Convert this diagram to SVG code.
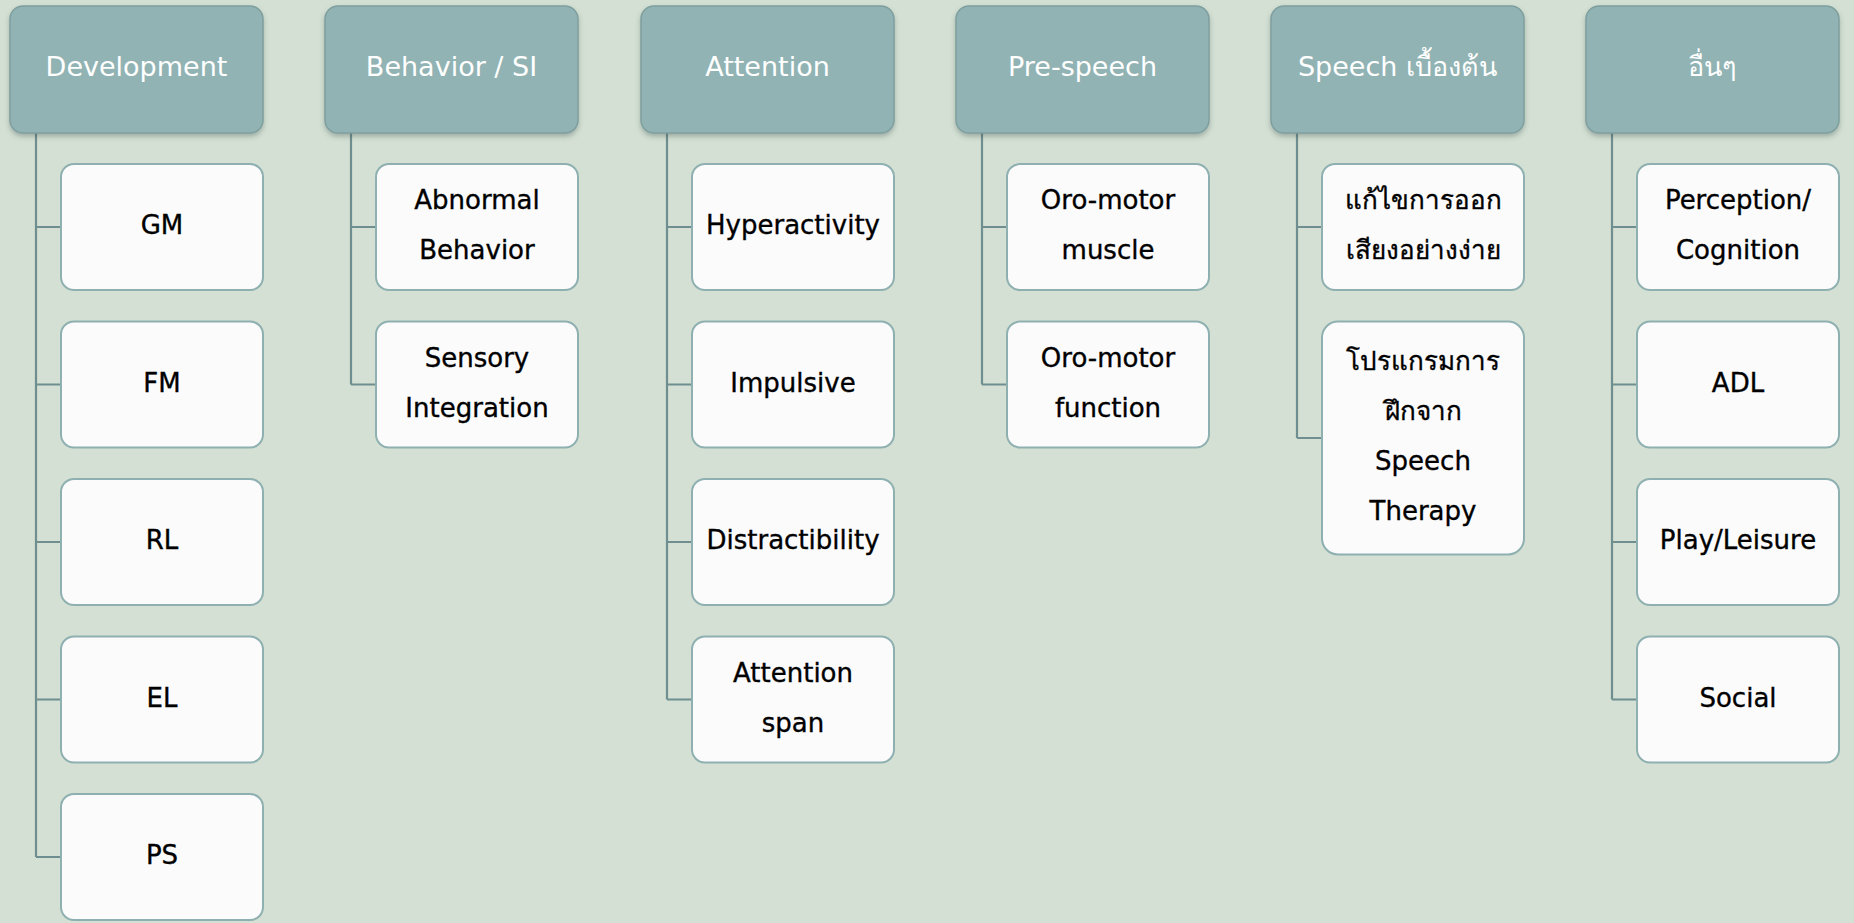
<svg xmlns="http://www.w3.org/2000/svg" width="1854" height="923" viewBox="0 0 1854 923">
<defs>
<filter id="sh" x="-10%" y="-10%" width="120%" height="130%">
<feDropShadow dx="0" dy="3" stdDeviation="2.5" flood-color="#3d5656" flood-opacity="0.35"/>
</filter>
</defs>
<style>
.bg{fill:#d4e0d3}
.hd{fill:#91b3b4;stroke:#7f9f9f;stroke-width:1.5;filter:url(#sh)}
.ch{fill:#fbfbfb;stroke:#8fb0b1;stroke-width:2}
.ht{font-family:"DejaVu Sans","Noto Sans",sans-serif;font-size:27px;fill:#ffffff;text-anchor:middle;dominant-baseline:central}
.ct{font-family:"DejaVu Sans","Noto Sans",sans-serif;font-size:26px;fill:#000000;stroke:#000000;stroke-width:0.35;text-anchor:middle;dominant-baseline:central}
.cn{fill:none;stroke:#6f8e8f;stroke-width:2.2}
</style>
<rect class="bg" x="0" y="0" width="1854" height="923"/>
<g id="connectors">
<path class="cn" d="M36 133 V857 M36 227 H61 M36 384.5 H61 M36 542 H61 M36 699.5 H61 M36 857 H61"/>
<path class="cn" d="M351 133 V384.5 M351 227 H376 M351 384.5 H376"/>
<path class="cn" d="M667 133 V699.5 M667 227 H692 M667 384.5 H692 M667 542 H692 M667 699.5 H692"/>
<path class="cn" d="M982 133 V384.5 M982 227 H1007 M982 384.5 H1007"/>
<path class="cn" d="M1297 133 V438 M1297 227 H1322 M1297 438 H1322"/>
<path class="cn" d="M1612 133 V699.5 M1612 227 H1637 M1612 384.5 H1637 M1612 542 H1637 M1612 699.5 H1637"/>
</g>
<g id="h-development"><rect class="hd" x="10" y="6" width="253" height="127" rx="13"/><text class="ht" x="136.5" y="66">Development</text></g>
<g id="h-behavior"><rect class="hd" x="325" y="6" width="253" height="127" rx="13"/><text class="ht" x="451.5" y="66">Behavior / SI</text></g>
<g id="h-attention"><rect class="hd" x="641" y="6" width="253" height="127" rx="13"/><text class="ht" x="767.5" y="66">Attention</text></g>
<g id="h-prespeech"><rect class="hd" x="956" y="6" width="253" height="127" rx="13"/><text class="ht" x="1082.5" y="66">Pre-speech</text></g>
<g id="h-speech"><rect class="hd" x="1271" y="6" width="253" height="127" rx="13"/><text class="ht" x="1397.5" y="66">Speech เบื้องต้น</text></g>
<g id="h-other"><rect class="hd" x="1586" y="6" width="253" height="127" rx="13"/><text class="ht" x="1712.5" y="66">อื่นๆ</text></g>

<g id="n-gm"><rect class="ch" x="61" y="164" width="202" height="126" rx="13"/><text class="ct" x="162" y="225">GM</text></g>
<g id="n-fm"><rect class="ch" x="61" y="321.5" width="202" height="126" rx="13"/><text class="ct" x="162" y="382.5">FM</text></g>
<g id="n-rl"><rect class="ch" x="61" y="479" width="202" height="126" rx="13"/><text class="ct" x="162" y="540">RL</text></g>
<g id="n-el"><rect class="ch" x="61" y="636.5" width="202" height="126" rx="13"/><text class="ct" x="162" y="697.5">EL</text></g>
<g id="n-ps"><rect class="ch" x="61" y="794" width="202" height="126" rx="13"/><text class="ct" x="162" y="855">PS</text></g>

<g id="n-abnormal"><rect class="ch" x="376" y="164" width="202" height="126" rx="13"/><text class="ct" x="477" y="200">Abnormal</text><text class="ct" x="477" y="250">Behavior</text></g>
<g id="n-sensory"><rect class="ch" x="376" y="321.5" width="202" height="126" rx="13"/><text class="ct" x="477" y="357.5">Sensory</text><text class="ct" x="477" y="407.5">Integration</text></g>

<g id="n-hyper"><rect class="ch" x="692" y="164" width="202" height="126" rx="13"/><text class="ct" x="793" y="225">Hyperactivity</text></g>
<g id="n-impulsive"><rect class="ch" x="692" y="321.5" width="202" height="126" rx="13"/><text class="ct" x="793" y="382.5">Impulsive</text></g>
<g id="n-distract"><rect class="ch" x="692" y="479" width="202" height="126" rx="13"/><text class="ct" x="793" y="540">Distractibility</text></g>
<g id="n-span"><rect class="ch" x="692" y="636.5" width="202" height="126" rx="13"/><text class="ct" x="793" y="672.5">Attention</text><text class="ct" x="793" y="722.5">span</text></g>

<g id="n-oromuscle"><rect class="ch" x="1007" y="164" width="202" height="126" rx="13"/><text class="ct" x="1108" y="200">Oro-motor</text><text class="ct" x="1108" y="250">muscle</text></g>
<g id="n-orofunction"><rect class="ch" x="1007" y="321.5" width="202" height="126" rx="13"/><text class="ct" x="1108" y="357.5">Oro-motor</text><text class="ct" x="1108" y="407.5">function</text></g>

<g id="n-simple"><rect class="ch" x="1322" y="164" width="202" height="126" rx="13"/><text class="ct" x="1423" y="200">แก้ไขการออก</text><text class="ct" x="1423" y="250">เสียงอย่างง่าย</text></g>
<g id="n-program"><rect class="ch" x="1322" y="321.5" width="202" height="233" rx="16"/><text class="ct" x="1423" y="361">โปรแกรมการ</text><text class="ct" x="1423" y="411">ฝึกจาก</text><text class="ct" x="1423" y="461">Speech</text><text class="ct" x="1423" y="511">Therapy</text></g>

<g id="n-perception"><rect class="ch" x="1637" y="164" width="202" height="126" rx="13"/><text class="ct" x="1738" y="200">Perception/</text><text class="ct" x="1738" y="250">Cognition</text></g>
<g id="n-adl"><rect class="ch" x="1637" y="321.5" width="202" height="126" rx="13"/><text class="ct" x="1738" y="382.5">ADL</text></g>
<g id="n-play"><rect class="ch" x="1637" y="479" width="202" height="126" rx="13"/><text class="ct" x="1738" y="540">Play/Leisure</text></g>
<g id="n-social"><rect class="ch" x="1637" y="636.5" width="202" height="126" rx="13"/><text class="ct" x="1738" y="697.5">Social</text></g>
</svg>
